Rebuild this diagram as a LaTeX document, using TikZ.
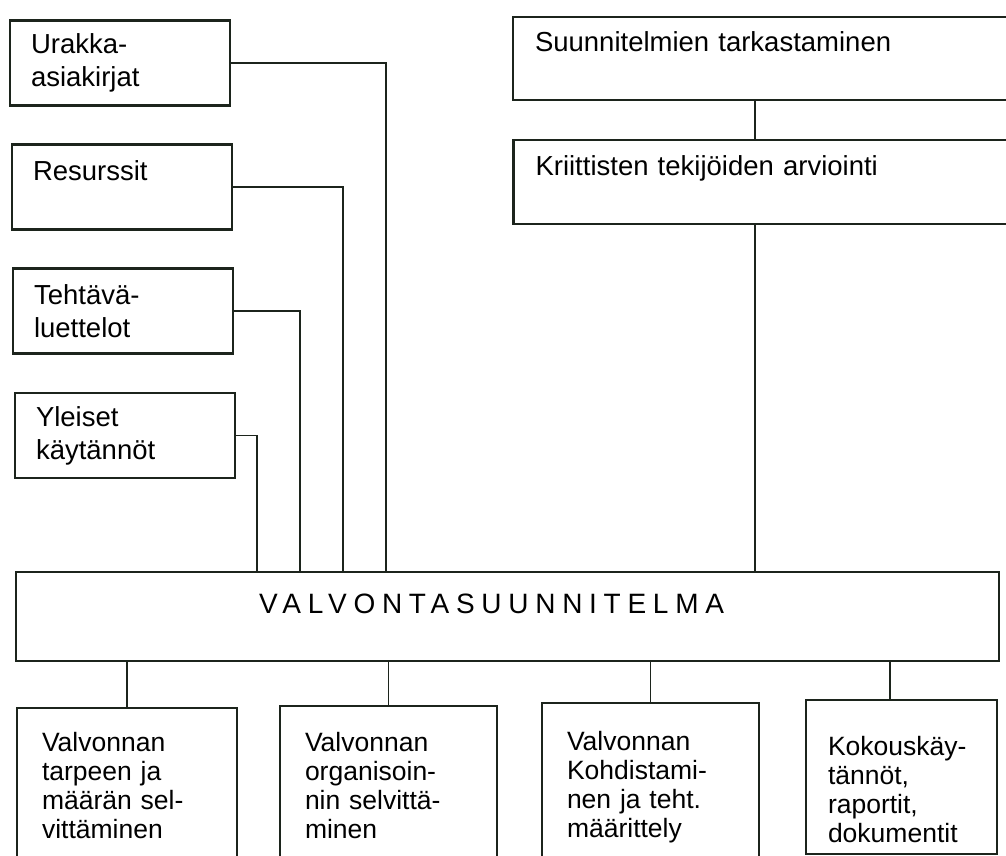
\documentclass[tikz,border=0pt]{standalone}
\usepackage{fontspec}
\setmainfont{Liberation Sans}
\newfontfamily\harvafont[LetterSpace=24]{Liberation Sans}
\definecolor{muste}{RGB}{28,36,28}
\begin{document}
\begin{tikzpicture}[x=1pt,y=-1pt]

    \tikzset{
      vasen/.style={
        draw=muste,
        line width=2.1pt,
        minimum height=85pt,
        text width=178pt,
        inner xsep=21pt,
        align=left,
        font=\fontsize{27.5}{33}\selectfont,
      },
      oikea/.style={
        vasen,
        text width=473pt,
        inner xsep=22pt,
      },
      alas/.style={
        draw=muste,
        line width=2.1pt,
        inner xsep=25pt,
        align=left,
        font=\fontsize{26.5}{29}\selectfont,
      },
      yhteys/.style={
        draw=muste,
        line width=1.5pt,
      },
    }
    \useasboundingbox (0,0) rectangle (1006,856);
    \clip (0,0) rectangle (1006,856);

    % lahtotiedot vasemmalla
    \node[vasen] (urakka) at (120,63) {Urakka-\\asiakirjat};
    \node[vasen] (resurssit) at (122,187) {Resurssit\\\mbox{}};
    \node[vasen] (tehtavat) at (123,311) {Tehtävä-\\luettelot};
    \node[vasen] (yleiset) at (125,435.5) {Yleiset\\käytännöt};

    % tarkastus oikealla
    \node[oikea, minimum height=83pt] (suunnitelmat) at (771.5,58.5) {Suunnitelmien tarkastaminen\\\mbox{}};
    \node[oikea, minimum height=84pt] (kriittiset) at (772,182) {Kriittisten tekijöiden arviointi\\\mbox{}};

    % valvontasuunnitelma
    \node[draw=muste, line width=2.1pt, minimum width=983pt, minimum height=89pt] (valvonta) at (507.5,616.5) {};
    \node[anchor=base west, inner sep=0pt, font=\harvafont\fontsize{28}{32}\selectfont] (otsikko) at (259,613) {VALVONTASUUNNITELMA};

    % osa-alueet
    \node[alas, text width=170pt, minimum height=156pt] (tarve) at (127,786) {Valvonnan\\tarpeen ja\\määrän sel-\\vittäminen};
    \node[alas, text width=167pt, minimum height=160pt] (organisointi) at (388.5,786) {Valvonnan\\organisoin-\\nin selvittä-\\minen};
    \node[alas, text width=167pt, minimum height=168pt] (kohdistus) at (650.5,787) {Valvonnan\\Kohdistami-\\nen ja teht.\\määrittely};
    \node[alas, text width=147pt, minimum height=154pt, inner xsep=22pt] (kokous) at (901.5,777) {\mbox{}\\[15pt]Kokouskäy-\\tännöt,\\raportit,\\dokumentit};

    \draw[yhteys] (urakka.east) -| (386,0 |- valvonta.north);
    \draw[yhteys] (resurssit.east) -| (343,0 |- valvonta.north);
    \draw[yhteys] (tehtavat.east) -| (300,0 |- valvonta.north);
    \draw[yhteys] (yleiset.east) -| (257,0 |- valvonta.north);
    \draw[yhteys] (755,0 |- suunnitelmat.south) -- (755,0 |- kriittiset.north);
    \draw[yhteys] (755,0 |- kriittiset.south) -- (755,0 |- valvonta.north);
    \draw[yhteys] (tarve.north |- valvonta.south) -- (tarve.north);
    \draw[yhteys] (organisointi.north |- valvonta.south) -- (organisointi.north);
    \draw[yhteys] (kohdistus.north |- valvonta.south) -- (kohdistus.north);
    \draw[yhteys] (890,0 |- valvonta.south) -- (890,0 |- kokous.north);

\end{tikzpicture}
\end{document}
